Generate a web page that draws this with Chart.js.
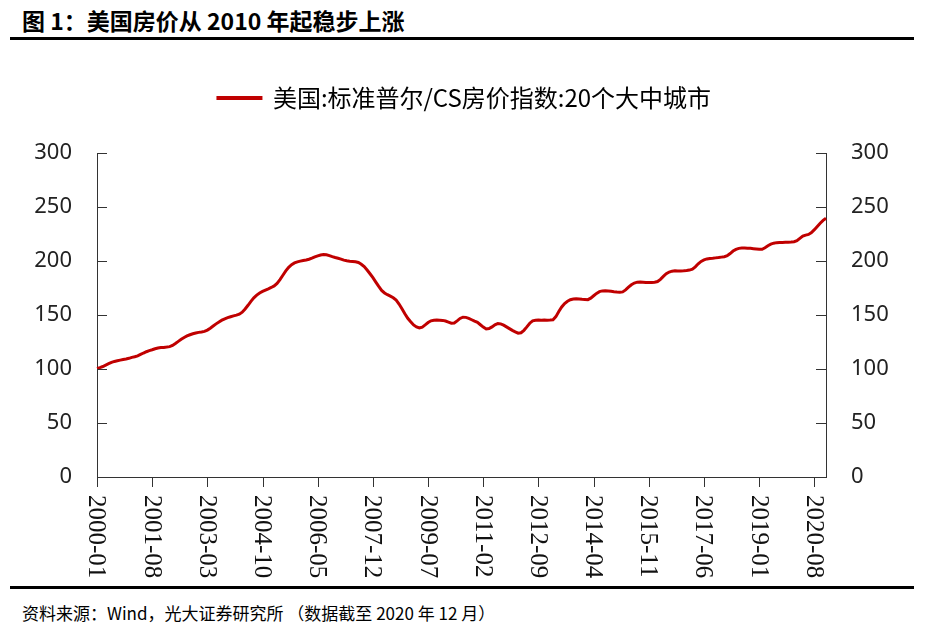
<!DOCTYPE html>
<html>
<head>
<meta charset="utf-8">
<script src="https://cdn.jsdelivr.net/npm/chart.js@4.4.0/dist/chart.umd.min.js"></script>
<style>
    body { margin: 0; width: 929px; height: 632px; background: #fff; position: relative; overflow: hidden;
           font-family: "Noto Sans CJK SC", "Noto Sans", sans-serif; color: #000; }
    #title { position: absolute; left: 22px; top: 3px; font-size: 23px; font-weight: bold; white-space: nowrap; }
    .rule { position: absolute; left: 10px; width: 904px; height: 3px; background: #000; }
    #source { position: absolute; left: 22px; top: 600px; font-size: 17px; white-space: nowrap; }
    #wrap { position: absolute; left: 0; top: 51px; width: 929px; height: 534px; }
</style>
</head>
<body>
<div id="title">图 1：美国房价从 2010 年起稳步上涨</div>
<div class="rule" style="top:37px"></div>
<div id="wrap"><canvas id="hpiChart"></canvas></div>
<div class="rule" style="top:586px"></div>
<div id="source">资料来源：Wind，光大证券研究所 （数据截至 2020 年 12 月）</div>

<script>
// --- Data: S&P/Case-Shiller 20-City index, monthly 2000-01 .. 2020-12 ---
const seriesName = '美国:标准普尔/CS房价指数:20个大中城市';

const months = [];
for (let y = 2000; y <= 2020; y++) {
    for (let m = 1; m <= 12; m++) months.push(y + '-' + (m < 10 ? '0' + m : m));
}

const hpi2000 = [100.6, 101.3, 102.3, 103.6, 104.9, 106.1, 107.0, 107.6, 108.2, 108.8, 109.3, 109.9];
const hpi2001 = [110.8, 111.3, 112.2, 113.5, 114.8, 116.0, 117.0, 117.8, 118.7, 119.4, 119.8, 120.0];
const hpi2002 = [120.3, 120.7, 121.8, 123.6, 125.6, 127.5, 129.2, 130.6, 131.7, 132.6, 133.3, 133.9];
const hpi2003 = [134.3, 134.8, 136.0, 137.8, 139.8, 141.8, 143.6, 145.2, 146.5, 147.5, 148.4, 149.2];
const hpi2004 = [149.9, 150.8, 152.6, 155.6, 159.0, 162.6, 165.9, 168.4, 170.4, 171.8, 173.0, 174.2];
const hpi2005 = [175.5, 176.9, 179.3, 182.8, 186.8, 190.8, 194.2, 196.6, 198.2, 199.2, 199.9, 200.5];
const hpi2006 = [201.0, 201.6, 202.6, 203.8, 204.8, 205.6, 206.0, 205.8, 205.0, 204.0, 203.2, 202.6];
const hpi2007 = [201.8, 200.8, 200.2, 199.8, 199.6, 199.3, 198.6, 197.0, 194.8, 191.6, 188.2, 184.6];
const hpi2008 = [180.5, 176.5, 172.8, 170.4, 168.8, 167.5, 166.0, 163.8, 160.2, 155.8, 151.2, 147.0];
const hpi2009 = [143.8, 140.8, 139.0, 138.0, 138.8, 140.8, 143.0, 144.6, 145.2, 145.3, 145.2, 145.0];
const hpi2010 = [144.4, 143.4, 142.4, 142.6, 144.6, 146.8, 148.0, 147.8, 146.9, 145.6, 144.3, 143.2];
const hpi2011 = [141.0, 138.8, 137.0, 137.4, 139.0, 141.0, 142.0, 141.8, 140.6, 139.0, 137.4, 135.8];
const hpi2012 = [134.4, 133.2, 133.6, 135.8, 139.0, 142.4, 144.6, 145.2, 145.3, 145.2, 145.3, 145.2];
const hpi2013 = [145.3, 145.6, 148.5, 153.2, 157.4, 160.6, 162.7, 164.1, 164.8, 165.0, 164.9, 164.6];
const hpi2014 = [164.4, 164.2, 165.6, 167.8, 170.0, 171.6, 172.3, 172.5, 172.3, 172.0, 171.6, 171.3];
const hpi2015 = [171.1, 171.4, 173.2, 175.8, 178.0, 179.6, 180.4, 180.6, 180.4, 180.2, 180.0, 180.1];
const hpi2016 = [180.4, 181.0, 183.0, 185.8, 188.2, 189.8, 190.6, 190.9, 190.8, 190.8, 190.9, 191.2];
const hpi2017 = [191.6, 192.4, 194.6, 197.4, 199.6, 201.0, 201.9, 202.4, 202.6, 202.9, 203.2, 203.6];
const hpi2018 = [204.0, 204.9, 206.9, 209.2, 210.8, 211.7, 212.0, 212.0, 211.8, 211.7, 211.4, 211.1];
const hpi2019 = [210.8, 210.9, 212.3, 214.2, 215.6, 216.5, 217.0, 217.2, 217.2, 217.3, 217.4, 217.6];
const hpi2020 = [217.9, 218.8, 220.9, 223.0, 224.0, 224.6, 226.3, 229.0, 232.0, 235.0, 237.6, 239.5];

const hpi = [].concat(hpi2000, hpi2001, hpi2002, hpi2003, hpi2004, hpi2005, hpi2006,
    hpi2007, hpi2008, hpi2009, hpi2010, hpi2011, hpi2012, hpi2013, hpi2014,
    hpi2015, hpi2016, hpi2017, hpi2018, hpi2019, hpi2020);

const yTicks = [0, 50, 100, 150, 200, 250, 300];
const xTickLabels = ['2000-01', '2001-08', '2003-03', '2004-10', '2006-05', '2007-12', '2009-07',
    '2011-02', '2012-09', '2014-04', '2015-11', '2017-06', '2019-01', '2020-08'];

const axisColor = '#333';
const textFont = '"Noto Sans", "Noto Sans CJK SC", sans-serif';

// --- Inward y ticks, outward x ticks and top-to-bottom date labels ---
const axisMarks = {
    id: 'axisMarks',
    afterDraw(chart) {
        const ctx = chart.ctx;
        const area = chart.chartArea;
        const yl = chart.scales.y, yr = chart.scales.y2, xs = chart.scales.x;
        ctx.save();
        ctx.strokeStyle = axisColor;
        ctx.lineWidth = 1;
        ctx.beginPath();
        yTicks.forEach(v => {
            const pl = Math.round(yl.getPixelForValue(v)) + 0.5;
            const pr = Math.round(yr.getPixelForValue(v)) + 0.5;
            ctx.moveTo(area.left, pl); ctx.lineTo(area.left + 10, pl);
            ctx.moveTo(area.right - 10, pr); ctx.lineTo(area.right, pr);
        });
        xTickLabels.forEach(lab => {
            const px = Math.round(xs.getPixelForValue(months.indexOf(lab))) + 0.5;
            ctx.moveTo(px, area.bottom); ctx.lineTo(px, area.bottom + 10);
        });
        ctx.stroke();

        ctx.fillStyle = '#111';
        ctx.font = '25px "Liberation Serif", serif';
        ctx.textAlign = 'left';
        ctx.textBaseline = 'middle';
        xTickLabels.forEach(lab => {
            const px = xs.getPixelForValue(months.indexOf(lab));
            ctx.save();
            ctx.translate(px, area.bottom + 18);
            ctx.rotate(Math.PI / 2);
            ctx.fillText(lab, 0, 1);
            ctx.restore();
        });
        ctx.restore();
    }
};

const yAxis = (pos, width) => ({
    type: 'linear',
    position: pos,
    min: 0,
    max: 300,
    afterFit: s => { s.width = width; },
    ticks: { stepSize: 50, padding: 25, color: '#222', font: { size: 22, family: textFont } },
    grid: { display: false, drawTicks: false },
    border: { display: true, color: axisColor, width: 1 }
});

new Chart(document.getElementById('hpiChart'), {
    type: 'line',
    data: {
        labels: months,
        datasets: [{
            label: seriesName,
            data: hpi,
            borderColor: '#C00000',
            backgroundColor: '#C00000',
            borderWidth: 3,
            pointRadius: 0,
            tension: 0,
            xAxisID: 'x',
            yAxisID: 'y'
        }]
    },
    options: {
        responsive: true,
        maintainAspectRatio: false,
        animation: false,
        layout: { padding: 0 },
        scales: {
            x: {
                afterFit: s => { s.height = 108; },
                ticks: { display: false },
                grid: { display: false },
                border: { display: true, color: axisColor, width: 1 }
            },
            // empty band between legend and plot
            gap: {
                type: 'category',
                position: 'top',
                afterFit: s => { s.height = 33; },
                ticks: { display: false },
                grid: { display: false },
                border: { display: false }
            },
            y: yAxis('left', 97),
            y2: yAxis('right', 103)
        },
        plugins: {
            legend: {
                position: 'top',
                labels: {
                    boxWidth: 43,
                    boxHeight: 1,
                    padding: 35,
                    color: '#000',
                    font: { size: 24, family: '"Noto Sans CJK SC", sans-serif' }
                }
            },
            tooltip: { enabled: false }
        }
    },
    plugins: [axisMarks]
});
</script>
</body>
</html>
